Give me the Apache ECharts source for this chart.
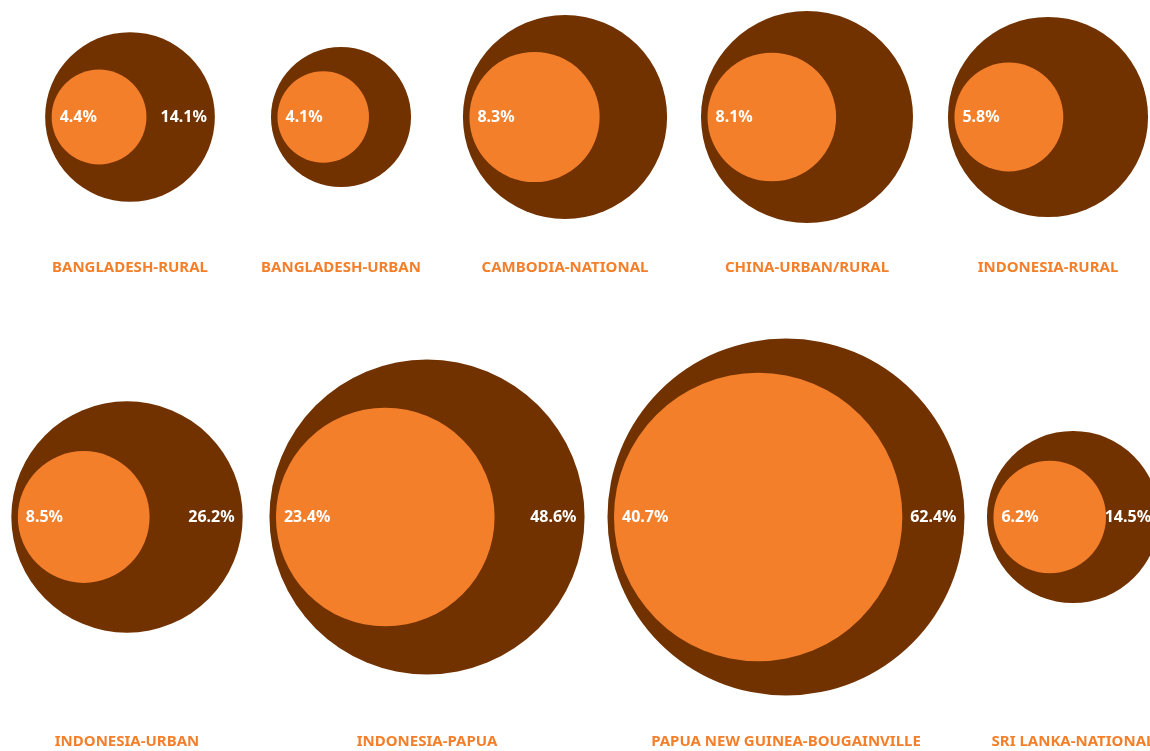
<!DOCTYPE html>
<html>
<head>
<meta charset="utf-8">
<script src="https://cdn.jsdelivr.net/npm/echarts@6/dist/echarts.min.js"></script>
<style>
  html, body { margin: 0; padding: 0; background: #fff; }
  #chart { width: 1150px; height: 751px; }
</style>
</head>
<body>
<div id="chart"></div>
<script>
// data
const categories = [
  'BANGLADESH-RURAL', 'BANGLADESH-URBAN', 'CAMBODIA-NATIONAL', 'CHINA-URBAN/RURAL', 'INDONESIA-RURAL',
  'INDONESIA-URBAN', 'INDONESIA-PAPUA', 'PAPUA NEW GUINEA-BOUGAINVILLE', 'SRI LANKA-NATIONAL'
];
const outerValues = [14.1, 9.6, 20.4, 22.0, 19.6, 26.2, 48.6, 62.4, 14.5];
const innerValues = [4.4, 4.1, 8.3, 8.1, 5.8, 8.5, 23.4, 40.7, 6.2];
// outer value printed only where the reference prints it
const outerLabelShown = [true, false, false, false, false, true, true, true, true];

// layout (panel centres, rows)
const panelX = [130, 341, 565, 807, 1048, 127, 427, 786, 1073];
const panelRow = [0, 0, 0, 0, 0, 1, 1, 1, 1];
const rowY = [117, 517];
const rowLabelY = [268, 742];

const brown = '#713200';
const orange = '#F47F2B';
const font = "'Noto Sans', 'Open Sans', sans-serif";
const nameSize = 15;
const valueSize = 16;
const pxPerRoot = 22.6;   // circle area proportional to value
const rimGap = 6.5;       // inner circle sits this far inside the outer's left edge
const radius = v => pxPerRoot * Math.sqrt(v);

const valueLabel = {
  color: '#fff',
  fontSize: valueSize,
  fontWeight: 'bold',
  fontFamily: font
};

const grid = [], xAxis = [], yAxis = [], series = [];

categories.forEach((name, i) => {
  const cy = rowY[panelRow[i]];
  const R = radius(outerValues[i]);
  const r = radius(innerValues[i]);
  grid.push({
    left: panelX[i] - 20, width: 40, top: cy - 10, height: 20,
    outerBoundsMode: 'none', containLabel: false
  });
  xAxis.push({
    gridIndex: i,
    type: 'category',
    data: [name],
    offset: rowLabelY[panelRow[i]] - cy - 10 - 4 - nameSize / 2,
    axisLine: { show: false },
    axisTick: { show: false },
    splitLine: { show: false },
    axisLabel: {
      margin: 4,
      interval: 0,
      hideOverlap: false,
      color: orange,
      fontSize: nameSize,
      fontWeight: 'bold',
      fontFamily: font
    }
  });
  yAxis.push({ gridIndex: i, type: 'value', min: -1, max: 1, show: false });
  series.push({
    type: 'scatter',
    xAxisIndex: i,
    yAxisIndex: i,
    clip: false,
    silent: true,
    z: 2,
    symbol: 'circle',
    symbolSize: 2 * R,
    itemStyle: { color: brown, opacity: 1 },
    label: Object.assign({
      show: outerLabelShown[i],
      position: 'insideRight',
      distance: 8,
      formatter: outerValues[i].toFixed(1) + '%'
    }, valueLabel),
    data: [[0, 0]]
  });
  series.push({
    type: 'scatter',
    xAxisIndex: i,
    yAxisIndex: i,
    clip: false,
    silent: true,
    z: 3,
    symbol: 'circle',
    symbolSize: 2 * r,
    symbolOffset: [-(R - r - rimGap), 0],
    itemStyle: { color: orange, opacity: 1 },
    label: Object.assign({
      show: true,
      position: 'insideLeft',
      distance: 8,
      formatter: innerValues[i].toFixed(1) + '%'
    }, valueLabel),
    data: [[0, 0]]
  });
});

const chart = echarts.init(document.getElementById('chart'));
chart.setOption({
  animation: false,
  backgroundColor: '#fff',
  grid: grid,
  xAxis: xAxis,
  yAxis: yAxis,
  series: series
});
</script>
</body>
</html>
